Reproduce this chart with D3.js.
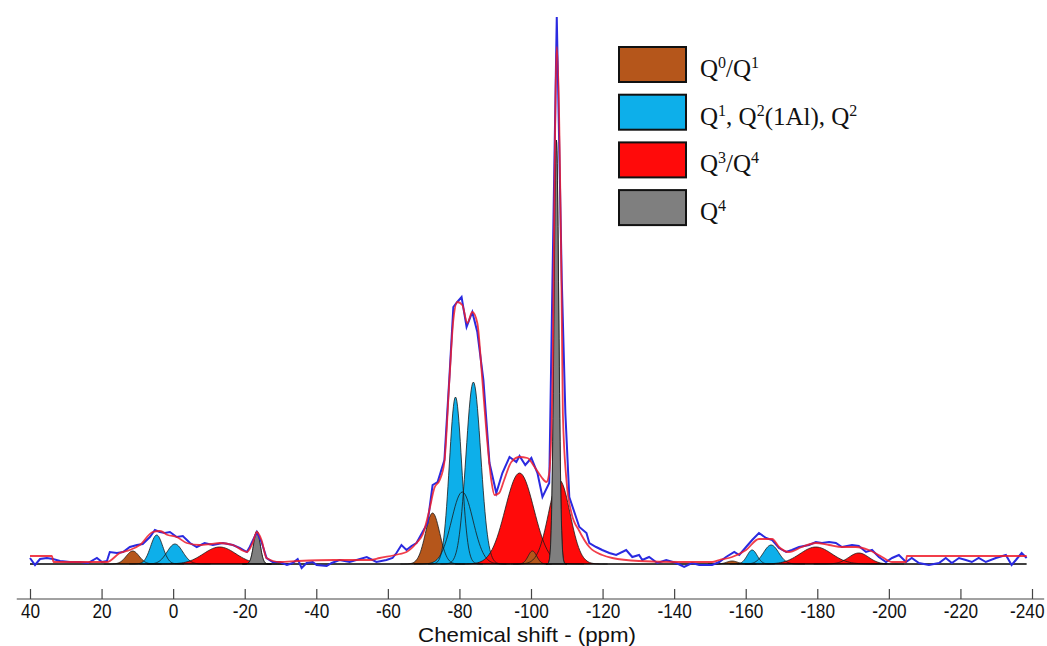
<!DOCTYPE html>
<html><head><meta charset="utf-8">
<script src="https://cdn.jsdelivr.net/npm/d3@7"></script>
<style>
html,body{margin:0;padding:0;background:#fff;}
svg{display:block;}
</style></head>
<body>
<svg id="chart" width="1047" height="646"></svg>
<script>
// ---------- DATA ----------
const xTicks = [40, 20, 0, -20, -40, -60, -80, -100, -120, -140, -160, -180, -200, -220, -240];
const xTitle = "Chemical shift - (ppm)";

// experimental spectrum [ppm, intensity a.u.]
const experimental = [[40.0,6],[38.6,-1],[37.2,5],[35.3,6],[33.6,5],[31.6,3],[28.8,2],[26.0,2],[23.8,1],[21.3,6],[19.9,2],[18.5,3],[17.7,12],[15.7,11],[14.0,12],[12.1,17],[10.1,19],[8.5,20],[6.5,27],[5.1,34],[3.7,32],[2.3,31],[0.9,32],[-1.0,27],[-2.7,28],[-4.7,21],[-6.6,17],[-8.8,21],[-11.1,19],[-13.9,21],[-16.7,19],[-18.6,16],[-20.6,12],[-21.4,17],[-23.4,32],[-24.7,22],[-26.1,6],[-27.8,2],[-29.8,2],[-31.8,-1],[-33.4,1],[-34.8,5],[-35.9,-4],[-37.3,1],[-39.0,2],[-40.1,-1],[-42.9,-2],[-44.3,1],[-46.5,4],[-49.3,2],[-54.1,7],[-56.8,2],[-59.6,4],[-61.3,6],[-62.4,11],[-63.8,19],[-65.2,14],[-66.6,18],[-68.0,21],[-69.7,32],[-71.1,41],[-72.5,79],[-73.9,82],[-75.8,104],[-77.2,187],[-78.3,257],[-79.4,262],[-80.6,267],[-82.0,237],[-83.6,252],[-85.0,232],[-86.7,184],[-88.4,101],[-90.3,71],[-92.0,91],[-94.0,107],[-95.9,102],[-96.8,108],[-98.4,99],[-100.1,106],[-101.8,91],[-103.2,67],[-105.1,81],[-106.0,284],[-107.2,547],[-108.6,284],[-109.6,151],[-110.7,67],[-113.5,37],[-115.5,31],[-116.3,21],[-118.2,17],[-119.9,14],[-121.9,11],[-123.8,9],[-126.6,14],[-128.3,7],[-130.2,9],[-131.1,4],[-133.0,7],[-135.3,1],[-137.8,4],[-140.6,1],[-142.8,-3],[-145.0,1],[-147.0,-1],[-147.8,-1],[-150.6,-1],[-152.6,2],[-154.5,7],[-156.8,12],[-158.2,9],[-160.1,17],[-161.8,24],[-163.7,31],[-165.7,26],[-167.4,24],[-169.3,16],[-171.3,12],[-172.9,14],[-174.9,17],[-177.7,19],[-179.6,22],[-181.3,21],[-183.3,22],[-185.2,21],[-186.9,17],[-189.7,19],[-191.6,18],[-193.6,12],[-195.3,14],[-197.2,7],[-199.2,2],[-200.9,6],[-202.8,9],[-204.8,2],[-206.4,6],[-208.4,1],[-211.2,-1],[-214.0,1],[-215.9,6],[-217.6,1],[-219.6,6],[-221.5,4],[-223.2,2],[-225.1,6],[-227.1,2],[-229.9,6],[-232.7,9],[-234.3,-1],[-235.5,4],[-237.1,11],[-238.5,6]];

// fitted envelope [ppm, intensity]
const fitted = [[40.0,8],[33.9,8],[33.4,2],[18.5,2],[14.9,11],[12.1,14],[9.3,19],[5.7,32],[3.7,33],[1.5,29],[-1.0,27],[-3.8,21],[-7.4,19],[-10.5,20],[-13.0,21],[-16.7,19],[-20.6,12],[-22.2,21],[-23.4,32],[-24.7,24],[-26.1,6],[-29.8,2],[-35,3],[-45,4],[-55,4],[-57.7,6],[-63.3,10],[-65.2,12],[-68.0,21],[-69.8,30],[-71.6,54],[-73.0,76],[-74.5,84],[-75.8,102],[-77.2,184],[-78.3,244],[-79.4,262],[-80.8,259],[-82.2,241],[-83.6,252],[-85.0,241],[-86.4,184],[-87.5,134],[-88.9,84],[-89.8,69],[-91.1,71],[-92.5,84],[-94.5,102],[-96.8,107],[-99.0,106],[-101.0,97],[-102.9,87],[-104.3,82],[-105.1,91],[-106.0,184],[-106.3,284],[-107.2,517],[-108.5,284],[-108.9,151],[-109.9,84],[-111.3,51],[-113.5,33],[-116.3,17],[-119.9,9],[-122.7,6],[-130.2,3],[-141.4,2],[-150.6,2],[-152.6,4],[-156.2,7],[-160.1,14],[-163.7,25],[-167.4,25],[-169.3,17],[-172.1,12],[-175.7,17],[-179.6,21],[-183.3,19],[-186.9,17],[-190.8,17],[-194.4,14],[-198.1,7],[-200.9,2],[-204.8,2],[-205.0,8],[-238.5,8]];

// fitted components: centre (ppm), height (a.u.), width sigma (ppm), species
const compCenter = [11.3, 4.6, -0.5, -13.0, -23.4, -72.5, -78.9, -83.9, -80.8, -96.8, -107.9, -100.4, -107.1, -156.2, -161.8, -167.1, -179.6, -191.6];
const compHeight = [13, 29, 20, 17, 33, 51, 167, 182, 72, 91, 84, 13, 424, 3, 14, 19, 17, 11];
const compSigma  = [1.8, 1.7, 2.2, 4.5, 0.9, 2.0, 1.7, 2.05, 3.0, 4.0, 3.0, 1.2, 0.65, 1.5, 1.4, 2.1, 4.4, 2.8];
const compType   = [0, 1, 1, 2, 3, 0, 1, 1, 1, 2, 2, 0, 3, 0, 1, 1, 2, 2];

const legendColors = ["#B5561B", "#0DAFEA", "#FF0A0A", "#7F7F7F"];
// legend labels: [text, superscript?] segments
const legendLabels = [
  [["Q",0],["0",1],["/Q",0],["1",1]],
  [["Q",0],["1",1],[", Q",0],["2",1],["(1Al), Q",0],["2",1]],
  [["Q",0],["3",1],["/Q",0],["4",1]],
  [["Q",0],["4",1]]
];

// ---------- DRAW ----------
const svg = d3.select("#chart");
const x = d3.scaleLinear().domain([40, -240]).range([30, 1032]);
const y = d3.scaleLinear().domain([0, 548]).range([564, 16]);

// components
const comps = compCenter.map((c, i) => ({c, h: compHeight[i], s: compSigma[i], t: compType[i]}));
const gauss = d => {
  const lo = d.c + 4.5 * d.s, hi = d.c - 4.5 * d.s;
  const n = 80, pts = [];
  for (let k = 0; k <= n; k++) {
    const p = lo + (hi - lo) * k / n;
    pts.push([p, d.h * Math.exp(-0.5 * Math.pow((p - d.c) / d.s, 2))]);
  }
  return pts;
};
const area = d3.area().x(p => x(p[0])).y0(y(0)).y1(p => y(p[1]));
const gComp = svg.append("g");
comps.forEach(d => {
  gComp.append("path").attr("d", area(gauss(d)))
    .attr("fill", legendColors[d.t]).attr("stroke", "none");
});
const lineC = d3.line().x(p => x(p[0])).y(p => y(p[1]));
comps.forEach(d => {
  gComp.append("path").attr("d", lineC(gauss(d)))
    .attr("fill", "none").attr("stroke", "#1a1a1a").attr("stroke-width", 0.8);
});
// gray Q4 peak redrawn on top
comps.filter(d => d.t === 3).forEach(d => {
  gComp.append("path").attr("d", area(gauss(d)))
    .attr("fill", legendColors[3]).attr("stroke", "#1a1a1a").attr("stroke-width", 0.8);
});

// baseline
svg.append("line")
  .attr("x1", x(40)).attr("x2", x(-238.5))
  .attr("y1", y(0)).attr("y2", y(0))
  .attr("stroke", "#000").attr("stroke-width", 1.6);

// experimental and fit
svg.append("path").datum(experimental)
  .attr("d", d3.line().x(p => x(p[0])).y(p => y(p[1])))
  .attr("fill", "none").attr("stroke", "#2A2AE0").attr("stroke-width", 2);
svg.append("path").datum(fitted)
  .attr("d", d3.line().curve(d3.curveMonotoneX).x(p => x(p[0])).y(p => y(p[1])))
  .attr("fill", "none").attr("stroke", "#EE1C2A").attr("stroke-width", 1.8).attr("opacity", 0.85);

// x axis
const axisFont = "'Liberation Sans', Arial, sans-serif";
const axisY = 599;
const squeeze = 0.82;
const gAxis = svg.append("g").attr("transform", `translate(0,${axisY})`);
gAxis.call(d3.axisBottom(x).tickValues(xTicks).tickSize(-10).tickPadding(4).tickFormat(d => String(d)));
gAxis.select(".domain").remove();
gAxis.append("line").attr("x1", x(43.7)).attr("x2", x(-243.4)).attr("y1", 0).attr("y2", 0)
  .attr("stroke", "#444").attr("stroke-width", 1.2);
gAxis.selectAll(".tick line").attr("stroke", "#444").attr("stroke-width", 1.2);
gAxis.selectAll(".tick text")
  .attr("font-family", axisFont)
  .attr("font-size", 21).attr("fill", "#111")
  .each(function (d) {
    const w = this.getComputedTextLength() * squeeze;
    const right = x(d) + w / 2;
    const shift = right > 1044 ? 1044 - right : 0;
    d3.select(this).attr("transform", `translate(${shift},0) scale(${squeeze},1)`);
  });
const titleG = svg.append("g").attr("transform", "translate(527,641.5)");
const title = titleG.append("text").attr("x", 0).attr("y", 0).attr("text-anchor", "middle")
  .attr("font-family", axisFont)
  .attr("font-size", 20).attr("fill", "#111").text(xTitle);
title.attr("transform", `scale(${218 / title.node().getComputedTextLength()},1)`);

// legend
const gLeg = svg.append("g");
legendColors.forEach((c, i) => {
  const top = 47 + i * 47.7;
  gLeg.append("rect").attr("x", 619).attr("y", top).attr("width", 67).attr("height", 35)
    .attr("fill", c).attr("stroke", "#111").attr("stroke-width", 2);
  const t = gLeg.append("text").attr("x", 700).attr("y", top + 30)
    .attr("font-family", "'Liberation Serif', 'Times New Roman', serif")
    .attr("font-size", 25).attr("fill", "#111");
  legendLabels[i].forEach(([s, sup], j) => {
    const prevSup = j > 0 ? legendLabels[i][j - 1][1] : 0;
    const ts = t.append("tspan").text(s);
    if (sup) ts.attr("font-size", 16).attr("dy", -9);
    else if (prevSup) ts.attr("dy", 9);
  });
});
</script>
</body></html>
